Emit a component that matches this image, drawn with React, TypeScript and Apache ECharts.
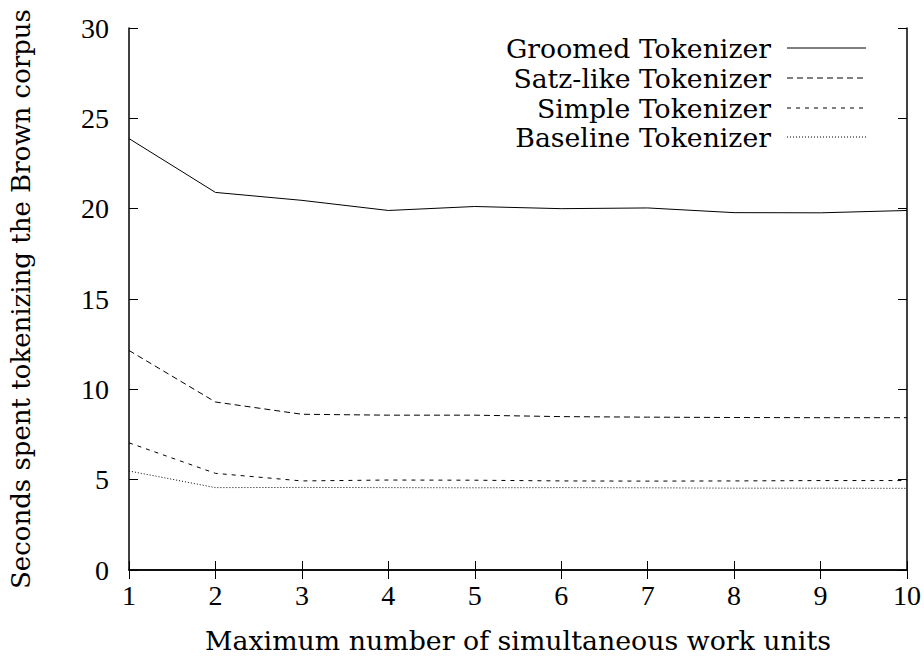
import React, { useEffect, useRef } from "react";
import * as echarts from "echarts";

const workUnits = [1, 2, 3, 4, 5, 6, 7, 8, 9, 10];
const groomed = [23.88, 20.9, 20.46, 19.9, 20.12, 20.0, 20.04, 19.78, 19.77, 19.9];
const satzLike = [12.15, 9.3, 8.62, 8.57, 8.57, 8.49, 8.46, 8.44, 8.43, 8.43];
const simple = [7.04, 5.35, 4.93, 4.98, 4.97, 4.93, 4.92, 4.93, 4.95, 4.95];
const baseline = [5.48, 4.56, 4.57, 4.56, 4.55, 4.56, 4.55, 4.53, 4.53, 4.52];
const seriesNames = ["Groomed Tokenizer", "Satz-like Tokenizer", "Simple Tokenizer", "Baseline Tokenizer"];
const xTitle = "Maximum number of simultaneous work units";
const yTitle = "Seconds spent tokenizing the Brown corpus";

const TICK_FONT = "Liberation Serif";
const TICK_FS = 28;
const TEXT_FONT = "DejaVu Serif";
const Y_TITLE_FS = 26;
const X_TITLE_FS = 26.8;
const LEGEND_FS = 26.7;

const dashes: any[] = ["solid", [6, 4], [4, 5], [1, 2]];

export default function App() {
  const ref = useRef<HTMLDivElement>(null);
  useEffect(() => {
    if (!ref.current) return;
    const chart = echarts.init(ref.current, null, { renderer: "svg" });
    const allSeries = [groomed, satzLike, simple, baseline];
    const gridLeft = 128, gridRight = 14, gridTop = 28, gridBottom = 87;
    const legendRows = [48, 78, 108, 137];
    const graphics: any[] = [];
    seriesNames.forEach((n, i) => {
      graphics.push({
        type: "text",
        right: 924 - 771,
        top: legendRows[i] - LEGEND_FS / 2,
        style: { text: n, font: `${LEGEND_FS}px "${TEXT_FONT}"`, fill: "#000", textAlign: "right" },
      });
      graphics.push({
        type: "line",
        shape: { x1: 787, y1: legendRows[i], x2: 866, y2: legendRows[i] },
        style: { stroke: "#000", lineWidth: 1, lineDash: dashes[i] === "solid" ? null : dashes[i] },
      });
    });
    const axisCommon = {
      axisLine: { show: true, lineStyle: { color: "#000", width: 1.5 } },
      axisTick: { show: true, inside: true, length: 9, lineStyle: { color: "#000", width: 1 } },
      splitLine: { show: false },
    };
    chart.setOption({
      animation: false,
      backgroundColor: "#fff",
      grid: { left: gridLeft, right: gridRight, top: gridTop, bottom: gridBottom, containLabel: false },
      xAxis: [
        {
          type: "value", min: 1, max: 10, interval: 1, position: "bottom",
          ...axisCommon,
          axisLabel: { color: "#000", fontFamily: TICK_FONT, fontSize: TICK_FS, margin: 11 },
          name: xTitle, nameLocation: "middle", nameGap: 57,
          nameTextStyle: { color: "#000", fontFamily: TEXT_FONT, fontSize: X_TITLE_FS },
        },
        {
          type: "value", min: 1, max: 10, interval: 1, position: "top",
          ...axisCommon, axisLabel: { show: false },
        },
      ],
      yAxis: [
        {
          type: "value", min: 0, max: 30, interval: 5, position: "left",
          ...axisCommon,
          axisLabel: { color: "#000", fontFamily: TICK_FONT, fontSize: TICK_FS, margin: 20 },
          name: yTitle, nameLocation: "middle", nameGap: 95,
          nameTextStyle: { color: "#000", fontFamily: TEXT_FONT, fontSize: Y_TITLE_FS },
        },
        {
          type: "value", min: 0, max: 30, interval: 5, position: "right",
          ...axisCommon, axisLabel: { show: false },
        },
      ],
      series: allSeries.map((d, i) => ({
        name: seriesNames[i],
        type: "line",
        data: workUnits.map((x, j) => [x, d[j]]),
        showSymbol: false,
        symbol: "none",
        lineStyle: { color: "#000", width: 1, type: dashes[i] },
        z: 3,
      })),
      graphic: graphics,
    });
    return () => chart.dispose();
  }, []);
  return <div ref={ref} style={{ width: 924, height: 659, position: "absolute", left: 0, top: 0 }} />;
}
